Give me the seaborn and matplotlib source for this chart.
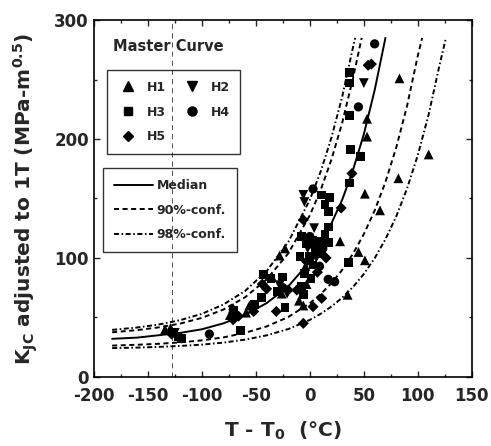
import matplotlib
matplotlib.use("Agg")
import matplotlib.pyplot as plt
import pandas as pd
import seaborn as sns
from matplotlib.lines import Line2D
from matplotlib.ticker import MultipleLocator

sns.set_style("ticks")
plt.rcParams["font.family"] = ["DejaVu Sans"]
plt.rcParams["font.weight"] = "bold"
plt.rcParams["axes.labelweight"] = "bold"
plt.rcParams["axes.unicode_minus"] = False
plt.rcParams["mathtext.fontset"] = "custom"
plt.rcParams["mathtext.rm"] = "DejaVu Sans:bold"
plt.rcParams["mathtext.it"] = "DejaVu Sans:bold"
plt.rcParams["mathtext.default"] = "rm"

# measured K_JC values (T - T0 in degC, K in MPa m^0.5)
h1_t = [-134, -129, -74, -71, -59, -56, -28, -23, -26, -35, -6, -10, 2, -3, -4, 28, 35, 45, 51, 51,
        53, 53, 65, 82, 83, 110]
h1_k = [40, 41, 52, 58, 54, 60, 102, 108, 70, 84, 60, 64, 112, 78, 93, 114, 69, 105, 98, 154,
        202, 217, 140, 167, 251, 187]

h2_t = [-125, -71, -28, -21, -6, -5, -2, 4, 6, 50]
h2_k = [37, 53, 77, 70, 153, 147, 108, 125, 100, 247]

h3_t = [-122, -119, -71, -64, -51, -45, -43, -36, -30, -25, -23, -8, -9, -5, -8, -6, -3, 0, 1, 3, 3, 5,
        10, 11, 11, 14, 14, 17, 17, 17, 18, 36, 37, 37, 37, 37, 38, 47]
h3_k = [34, 32, 56, 39, 61, 67, 86, 83, 72, 84, 58, 118, 101, 87, 76, 69, 112, 101, 83, 115, 94, 108,
        114, 104, 153, 145, 120, 113, 126, 139, 151, 96, 163, 220, 247, 256, 191, 185]

h4_t = [-93, -25, 0, 3, 9, 12, 17, 23, 45, 60]
h4_k = [36, 75, 118, 158, 93, 108, 82, 80, 227, 280]

h5_t = [-128, -71, -66, -52, -44, -40, -31, -20, -12, -6, -6, -3, 3, 7, 11, 15, 29, 39, 54, 57]
h5_k = [36, 48, 51, 55, 78, 74, 55, 73, 73, 132, 45, 97, 59, 88, 66, 100, 142, 171, 262, 263]

# master curve and bounds
median_t = [-183, -160, -140, -120, -100, -80, -60, -40, -20, 0, 10, 20, 30, 40, 50, 60, 70]
median_k = [32, 33, 35, 37, 40, 45, 52, 62, 76, 97, 112, 129, 149, 174, 204, 241, 285]

up90_t = [-183, -160, -140, -120, -100, -80, -60, -40, -20, 0, 10, 20, 30, 40, 48]
up90_k = [37.5, 39.3, 41.6, 44.8, 49.6, 56.6, 66.9, 81.9, 103.8, 135.8, 157.0, 182.7, 213.7, 251.2, 285]

up98_t = [-183, -160, -140, -120, -100, -80, -60, -40, -20, 0, 10, 20, 30, 40, 42]
up98_k = [39.5, 41.5, 44.0, 47.7, 53.0, 60.8, 72.2, 88.9, 113.3, 148.9, 172.5, 201.1, 235.6, 277.3, 285]

lo90_t = [-183, -160, -140, -120, -100, -80, -60, -40, -20, 0, 10, 20, 30, 40, 50, 60, 70, 80, 90, 100, 104]
lo90_k = [26.3, 27.0, 27.8, 29.0, 30.7, 33.2, 37.0, 42.4, 50.3, 61.9, 69.5, 78.8, 90.0, 103.6, 120.0,
          139.8, 163.8, 192.8, 227.8, 270.2, 285]

lo98_t = [-183, -160, -140, -120, -100, -80, -60, -40, -20, 0, 10, 20, 30, 40, 50, 60, 70, 80, 90, 100,
          110, 120, 126]
lo98_k = [24.2, 24.6, 25.2, 26.0, 27.1, 28.8, 31.3, 34.9, 40.2, 47.9, 53.0, 59.1, 66.6, 75.6, 86.5,
          99.7, 115.7, 134.9, 158.3, 186.5, 220.6, 261.8, 285]

lower_limit_t = -128

groups = ["H1", "H2", "H3", "H4", "H5"]
markers = {"H1": "^", "H2": "v", "H3": "s", "H4": "o", "H5": "D"}
sizes = {"H1": 50, "H2": 50, "H3": 40, "H4": 44, "H5": 32}

pts = pd.concat(
    [
        pd.DataFrame({"T": t, "K": k, "group": g})
        for g, t, k in zip(groups, [h1_t, h2_t, h3_t, h4_t, h5_t], [h1_k, h2_k, h3_k, h4_k, h5_k])
    ],
    ignore_index=True,
)

fig = plt.figure(figsize=(4.91, 4.46), dpi=100)
ax = fig.add_axes([0.191, 0.155, 0.770, 0.800])

ax.axvline(lower_limit_t, color="0.2", lw=0.6, ls=(0, (6, 5)), zorder=1)

dash90 = (0, (2.6, 1.8))
dash98 = (0, (2.6, 1.3, 0.8, 1.3))
line_kw = dict(ax=ax, color="black", lw=1.4, zorder=2)
sns.lineplot(x=median_t, y=median_k, linestyle="-", **line_kw)
sns.lineplot(x=up90_t, y=up90_k, linestyle=dash90, **line_kw)
sns.lineplot(x=lo90_t, y=lo90_k, linestyle=dash90, **line_kw)
sns.lineplot(x=up98_t, y=up98_k, linestyle=dash98, **line_kw)
sns.lineplot(x=lo98_t, y=lo98_k, linestyle=dash98, **line_kw)

sns.scatterplot(
    data=pts, x="T", y="K", style="group", markers=markers, size="group", sizes=sizes,
    color="black", edgecolor="black", linewidth=0, legend=False, zorder=3, ax=ax,
)

ax.set_xlim(-200, 150)
ax.set_ylim(0, 300)
ax.xaxis.set_major_locator(MultipleLocator(50))
ax.xaxis.set_minor_locator(MultipleLocator(25))
ax.yaxis.set_major_locator(MultipleLocator(100))
ax.yaxis.set_minor_locator(MultipleLocator(50))
ax.tick_params(which="both", direction="in", top=True, right=True, labelsize=12, width=1)
ax.tick_params(which="major", length=4)
ax.tick_params(which="minor", length=2.5)
ax.tick_params(axis="x", which="major", pad=7)
for s in ax.spines.values():
    s.set_linewidth(1.2)
    s.set_color("black")

ax.set_xlabel("T - T$_0$  (°C)", fontsize=14.5, labelpad=11)
ax.set_ylabel("K$_{JC}$ adjusted to 1T (MPa-m$^{0.5}$)", fontsize=14.5, labelpad=10)

ax.text(0.05, 0.927, "Master Curve", transform=ax.transAxes, fontsize=10.5,
        fontweight="bold", ha="left", va="center")

mk = lambda m, ms: Line2D([], [], marker=m, color="black", ls="none", markersize=ms)
leg1 = ax.legend(
    handles=[mk("^", 7), mk("s", 6), mk("D", 5.5), mk("v", 7), mk("o", 6.5)],
    labels=["H1", "H3", "H5", "H2", "H4"],
    ncol=2, loc="upper left", bbox_to_anchor=(0.034, 0.860), borderaxespad=0,
    fontsize=9, frameon=True, fancybox=False, edgecolor="black", facecolor="none",
    borderpad=0.85, handlelength=1.66, handletextpad=0.69, columnspacing=1.23,
    labelspacing=0.95,
)
leg1.get_frame().set_linewidth(1.0)
ax.add_artist(leg1)

leg2 = ax.legend(
    handles=[
        Line2D([], [], color="black", lw=1.4, ls="-"),
        Line2D([], [], color="black", lw=1.4, ls=dash90),
        Line2D([], [], color="black", lw=1.4, ls=dash98),
    ],
    labels=["Median", "90%-conf.", "98%-conf."],
    loc="upper left", bbox_to_anchor=(0.024, 0.585), borderaxespad=0,
    fontsize=9, frameon=True, fancybox=False, edgecolor="black", facecolor="none",
    borderpad=0.9, handlelength=3.1, handletextpad=0.32, labelspacing=0.91,
)
leg2.get_frame().set_linewidth(1.0)

fig.savefig("out.png", dpi=100)
